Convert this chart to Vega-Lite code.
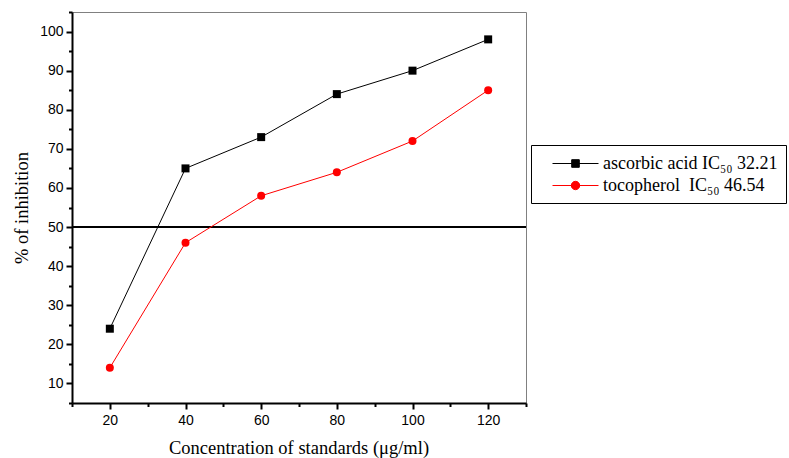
{
  "$schema": "https://vega.github.io/schema/vega-lite/v6.json",
  "width": 454,
  "height": 391,
  "autosize": {"type": "none"},
  "padding": {"left": 72, "top": 12, "right": 263, "bottom": 55},
  "background": "white",
  "title": {
    "text": "Concentration of standards (μg/ml)",
    "orient": "bottom",
    "anchor": "middle",
    "font": "Liberation Serif",
    "fontSize": 18.5,
    "fontWeight": "normal",
    "color": "black",
    "offset": 12
  },
  "config": {
    "view": {"stroke": "#808080", "strokeWidth": 1},
    "style": {"guide-title": {"font": "Liberation Serif", "fontSize": 18.5, "fontWeight": "normal", "fill": "black"}},
    "axis": {"grid": false, "titleFont": "Liberation Serif", "titleFontWeight": "normal", "titleFontSize": 18.5, "titleColor": "black", "labelFont": "Liberation Sans", "labelFontSize": 14, "labelColor": "black", "tickColor": "black", "domainColor": "black", "tickWidth": 2, "domainWidth": 2}
  },
  "data": {
    "values": [
      {"conc": 20, "inhibition": 24, "series": "ascorbic acid IC₅₀ 32.21"},
      {"conc": 40, "inhibition": 65, "series": "ascorbic acid IC₅₀ 32.21"},
      {"conc": 60, "inhibition": 73, "series": "ascorbic acid IC₅₀ 32.21"},
      {"conc": 80, "inhibition": 84, "series": "ascorbic acid IC₅₀ 32.21"},
      {"conc": 100, "inhibition": 90, "series": "ascorbic acid IC₅₀ 32.21"},
      {"conc": 120, "inhibition": 98, "series": "ascorbic acid IC₅₀ 32.21"},
      {"conc": 20, "inhibition": 14, "series": "tocopherol  IC₅₀ 46.54"},
      {"conc": 40, "inhibition": 46, "series": "tocopherol  IC₅₀ 46.54"},
      {"conc": 60, "inhibition": 58, "series": "tocopherol  IC₅₀ 46.54"},
      {"conc": 80, "inhibition": 64, "series": "tocopherol  IC₅₀ 46.54"},
      {"conc": 100, "inhibition": 72, "series": "tocopherol  IC₅₀ 46.54"},
      {"conc": 120, "inhibition": 85, "series": "tocopherol  IC₅₀ 46.54"}
    ]
  },
  "resolve": {
    "scale": {"x": "independent", "y": "independent", "shape": "independent", "fill": "independent", "stroke": "independent"},
    "axis": {"x": "independent", "y": "independent"},
    "legend": {"shape": "independent", "fill": "independent", "stroke": "independent"}
  },
  "layer": [
    {
      "mark": {"type": "rule", "color": "black", "strokeWidth": 1},
      "encoding": {
        "y": {"datum": 50, "type": "quantitative", "scale": {"domain": [5, 105], "nice": false, "zero": false}, "axis": null}
      }
    },
    {
      "mark": {"type": "line", "strokeWidth": 1},
      "encoding": {
        "x": {
          "field": "conc", "type": "quantitative",
          "scale": {"domain": [10, 130], "nice": false, "zero": false},
          "axis": {
            "orient": "bottom",
            "title": null,
            "values": [20, 40, 60, 80, 100, 120],
            "tickSize": 6,
            "labelPadding": 4,
            "labelFlush": false
          }
        },
        "y": {
          "field": "inhibition", "type": "quantitative",
          "scale": {"domain": [5, 105], "nice": false, "zero": false},
          "axis": {
            "orient": "left",
            "title": "% of inhibition",
            "values": [10, 20, 30, 40, 50, 60, 70, 80, 90, 100],
            "tickSize": 6,
            "labelPadding": 3,
            "labelFlush": false,
            "titleFont": "Liberation Serif",
            "titleFontSize": 18.5,
            "titleFontWeight": "normal",
            "titlePadding": 8
          }
        },
        "color": {
          "field": "series", "type": "nominal",
          "scale": {"domain": ["ascorbic acid IC₅₀ 32.21", "tocopherol  IC₅₀ 46.54"], "range": ["#000000", "#ff0000"]},
          "legend": null
        }
      }
    },
    {
      "mark": {"type": "point", "filled": true, "size": 64, "opacity": 1},
      "encoding": {
        "x": {
          "field": "conc", "type": "quantitative",
          "scale": {"domain": [10, 130], "nice": false, "zero": false},
          "axis": {"orient": "bottom", "title": null, "values": [10, 30, 50, 70, 90, 110, 130], "labels": false, "domain": false, "tickSize": 3.5}
        },
        "y": {
          "field": "inhibition", "type": "quantitative",
          "scale": {"domain": [5, 105], "nice": false, "zero": false},
          "axis": {"orient": "left", "title": null, "values": [5, 15, 25, 35, 45, 55, 65, 75, 85, 95, 105], "labels": false, "domain": false, "tickSize": 3.5}
        },
        "color": {
          "field": "series", "type": "nominal",
          "scale": {"domain": ["ascorbic acid IC₅₀ 32.21", "tocopherol  IC₅₀ 46.54"], "range": ["#000000", "#ff0000"]},
          "legend": null
        },
        "shape": {
          "field": "series", "type": "nominal",
          "scale": {"domain": ["ascorbic acid IC₅₀ 32.21", "tocopherol  IC₅₀ 46.54"], "range": ["square", "circle"]},
          "legend": null
        }
      }
    },
    {
      "mark": {"type": "point", "filled": true, "size": 0, "opacity": 1, "strokeWidth": 1},
      "encoding": {
        "x": {"field": "conc", "type": "quantitative", "scale": {"domain": [10, 130], "nice": false, "zero": false}, "axis": null},
        "y": {"field": "inhibition", "type": "quantitative", "scale": {"domain": [5, 105], "nice": false, "zero": false}, "axis": null},
        "fill": {
          "field": "series", "type": "nominal",
          "scale": {"domain": ["ascorbic acid IC₅₀ 32.21", "tocopherol  IC₅₀ 46.54"], "range": ["#000000", "#ff0000"]},
          "legend": {"orient": "none", "legendX": 459, "legendY": 133, "title": null}
        },
        "stroke": {
          "field": "series", "type": "nominal",
          "scale": {"domain": ["ascorbic acid IC₅₀ 32.21", "tocopherol  IC₅₀ 46.54"], "range": ["#000000", "#ff0000"]},
          "legend": {"orient": "none", "legendX": 459, "legendY": 133, "title": null}
        },
        "shape": {
          "field": "series", "type": "nominal",
          "scale": {"domain": ["ascorbic acid IC₅₀ 32.21", "tocopherol  IC₅₀ 46.54"], "range": ["M-2.3,0H2.3M-0.38,-0.38H0.38V0.38H-0.38Z", "M-2.3,0H2.3M0.42,0A0.42,0.42 0 1,1 -0.42,0A0.42,0.42 0 1,1 0.42,0Z"]},
          "legend": {
            "orient": "none",
            "legendX": 459,
            "legendY": 133,
            "title": null,
            "strokeColor": "black",
            "fillColor": "white",
            "padding": 8,
            "symbolSize": 400,
            "symbolOffset": 26,
            "symbolStrokeWidth": 1,
            "symbolOpacity": 1,
            "labelFont": "Liberation Serif",
            "labelFontSize": 18,
            "labelColor": "black",
            "labelOffset": 17,
            "labelLimit": 0,
            "labelExpr": "replace(datum.label, '  ', '\u00a0 ')",
            "rowPadding": 2
          }
        }
      }
    }
  ]
}
